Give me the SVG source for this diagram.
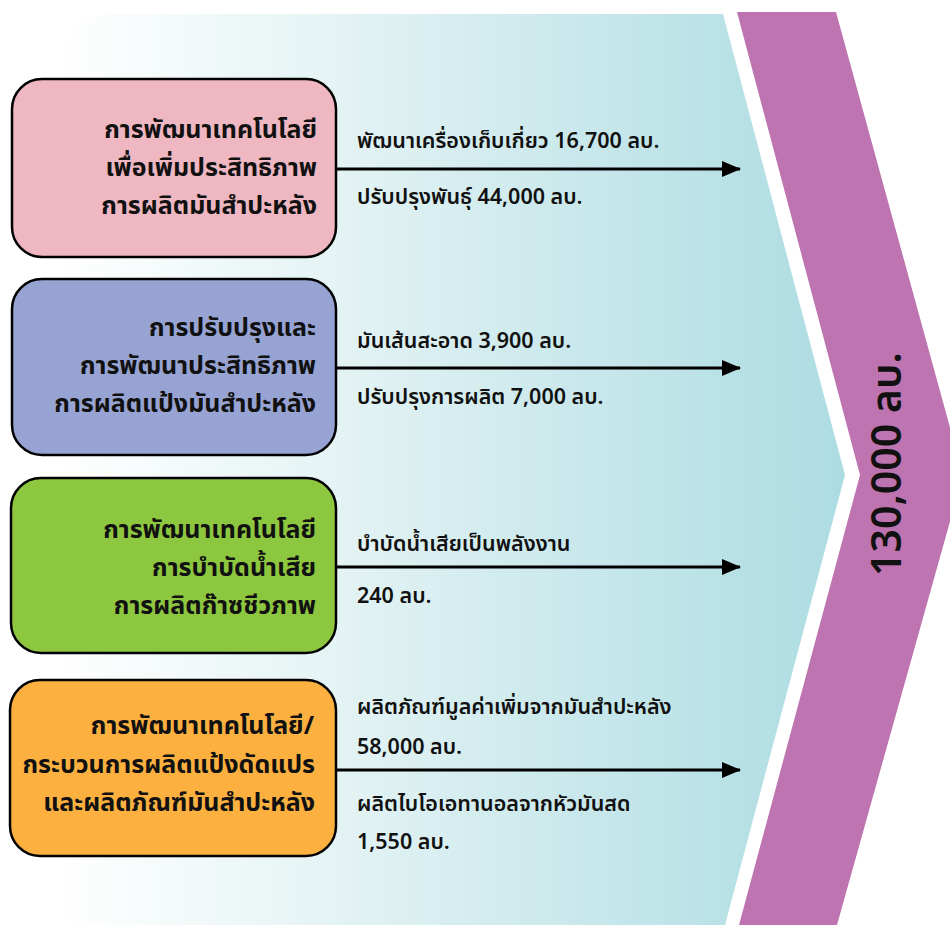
<svg xmlns="http://www.w3.org/2000/svg" width="950" height="925" viewBox="0 0 950 925">
  <defs>
    <linearGradient id="bg" x1="60" y1="0" x2="845" y2="0" gradientUnits="userSpaceOnUse">
      <stop offset="0" stop-color="#ffffff"/>
      <stop offset="0.35" stop-color="#e4f3f4"/>
      <stop offset="1" stop-color="#acdce2"/>
    </linearGradient>
    <marker id="ah" markerWidth="20" markerHeight="16" refX="18" refY="8" orient="auto" markerUnits="userSpaceOnUse">
      <path d="M0,0 L19,8 L0,16 Z" fill="#000"/>
    </marker>
    <style>
      .box { stroke: #000; stroke-width: 2.5; }
      .lbl { font-family: Tahoma, "Noto Sans Thai", "Noto Sans", "DejaVu Sans", sans-serif; font-size: 25px; font-weight: bold; fill: #111; text-anchor: end; }
      .val { font-family: Tahoma, "Noto Sans Thai", "Noto Sans", "DejaVu Sans", sans-serif; font-size: 21.5px; font-weight: 600; fill: #111; }
      .conn { stroke: #000; stroke-width: 3; fill: none; }
      .total { font-family: Tahoma, "Noto Sans Thai", "Noto Sans", "DejaVu Sans", sans-serif; font-size: 41px; font-weight: 600; fill: #111; text-anchor: middle; }
    </style>
  </defs>

  <g id="background">
    <path d="M60,64 Q60,14 115,14 L723,14 L845,475 L725,925 L60,925 Z" fill="url(#bg)"/>
  </g>

  <g id="total">
    <path d="M737,12 L836,12 L963,475 L837,925 L739,925 L860,475 Z" fill="#be74b0"/>
    <text class="total" transform="translate(901,464) rotate(-90)">130,000 ลบ.</text>
  </g>

  <g id="connectors">
    <line class="conn" x1="337" y1="169" x2="740" y2="169" marker-end="url(#ah)"/>
    <line class="conn" x1="337" y1="368" x2="740" y2="368" marker-end="url(#ah)"/>
    <line class="conn" x1="337" y1="567" x2="740" y2="567" marker-end="url(#ah)"/>
    <line class="conn" x1="337" y1="770" x2="740" y2="770" marker-end="url(#ah)"/>
  </g>

  <g id="node1">
    <rect class="box" x="12" y="79" width="324" height="178" rx="30" fill="#eeb7c1"/>
    <text class="lbl" x="317" y="138">การพัฒนาเทคโนโลยี</text>
    <text class="lbl" x="317" y="176">เพื่อเพิ่มประสิทธิภาพ</text>
    <text class="lbl" x="317" y="214">การผลิตมันสำปะหลัง</text>
  </g>
  <g id="node2">
    <rect class="box" x="12" y="279" width="324" height="176" rx="30" fill="#97a4d3"/>
    <text class="lbl" x="316" y="336">การปรับปรุงและ</text>
    <text class="lbl" x="316" y="374">การพัฒนาประสิทธิภาพ</text>
    <text class="lbl" x="316" y="412">การผลิตแป้งมันสำปะหลัง</text>
  </g>
  <g id="node3">
    <rect class="box" x="11" y="478" width="325" height="175" rx="30" fill="#8dc63f"/>
    <text class="lbl" x="316" y="538">การพัฒนาเทคโนโลยี</text>
    <text class="lbl" x="316" y="576">การบำบัดน้ำเสีย</text>
    <text class="lbl" x="316" y="614">การผลิตก๊าซชีวภาพ</text>
  </g>
  <g id="node4">
    <rect class="box" x="10" y="680" width="326" height="176" rx="30" fill="#fbb040"/>
    <text class="lbl" x="314" y="734">การพัฒนาเทคโนโลยี/</text>
    <text class="lbl" x="315" y="773">กระบวนการผลิตแป้งดัดแปร</text>
    <text class="lbl" x="315" y="811">และผลิตภัณฑ์มันสำปะหลัง</text>
  </g>

  <g id="values">
    <text class="val" x="357" y="148">พัฒนาเครื่องเก็บเกี่ยว 16,700 ลบ.</text>
    <text class="val" x="357" y="204">ปรับปรุงพันธุ์ 44,000 ลบ.</text>
    <text class="val" x="357" y="348">มันเส้นสะอาด 3,900 ลบ.</text>
    <text class="val" x="357" y="404">ปรับปรุงการผลิต 7,000 ลบ.</text>
    <text class="val" x="357" y="551">บำบัดน้ำเสียเป็นพลังงาน</text>
    <text class="val" x="357" y="603">240 ลบ.</text>
    <text class="val" x="357" y="714">ผลิตภัณฑ์มูลค่าเพิ่มจากมันสำปะหลัง</text>
    <text class="val" x="357" y="754">58,000 ลบ.</text>
    <text class="val" x="357" y="811">ผลิตไบโอเอทานอลจากหัวมันสด</text>
    <text class="val" x="357" y="849">1,550 ลบ.</text>
  </g>
</svg>
